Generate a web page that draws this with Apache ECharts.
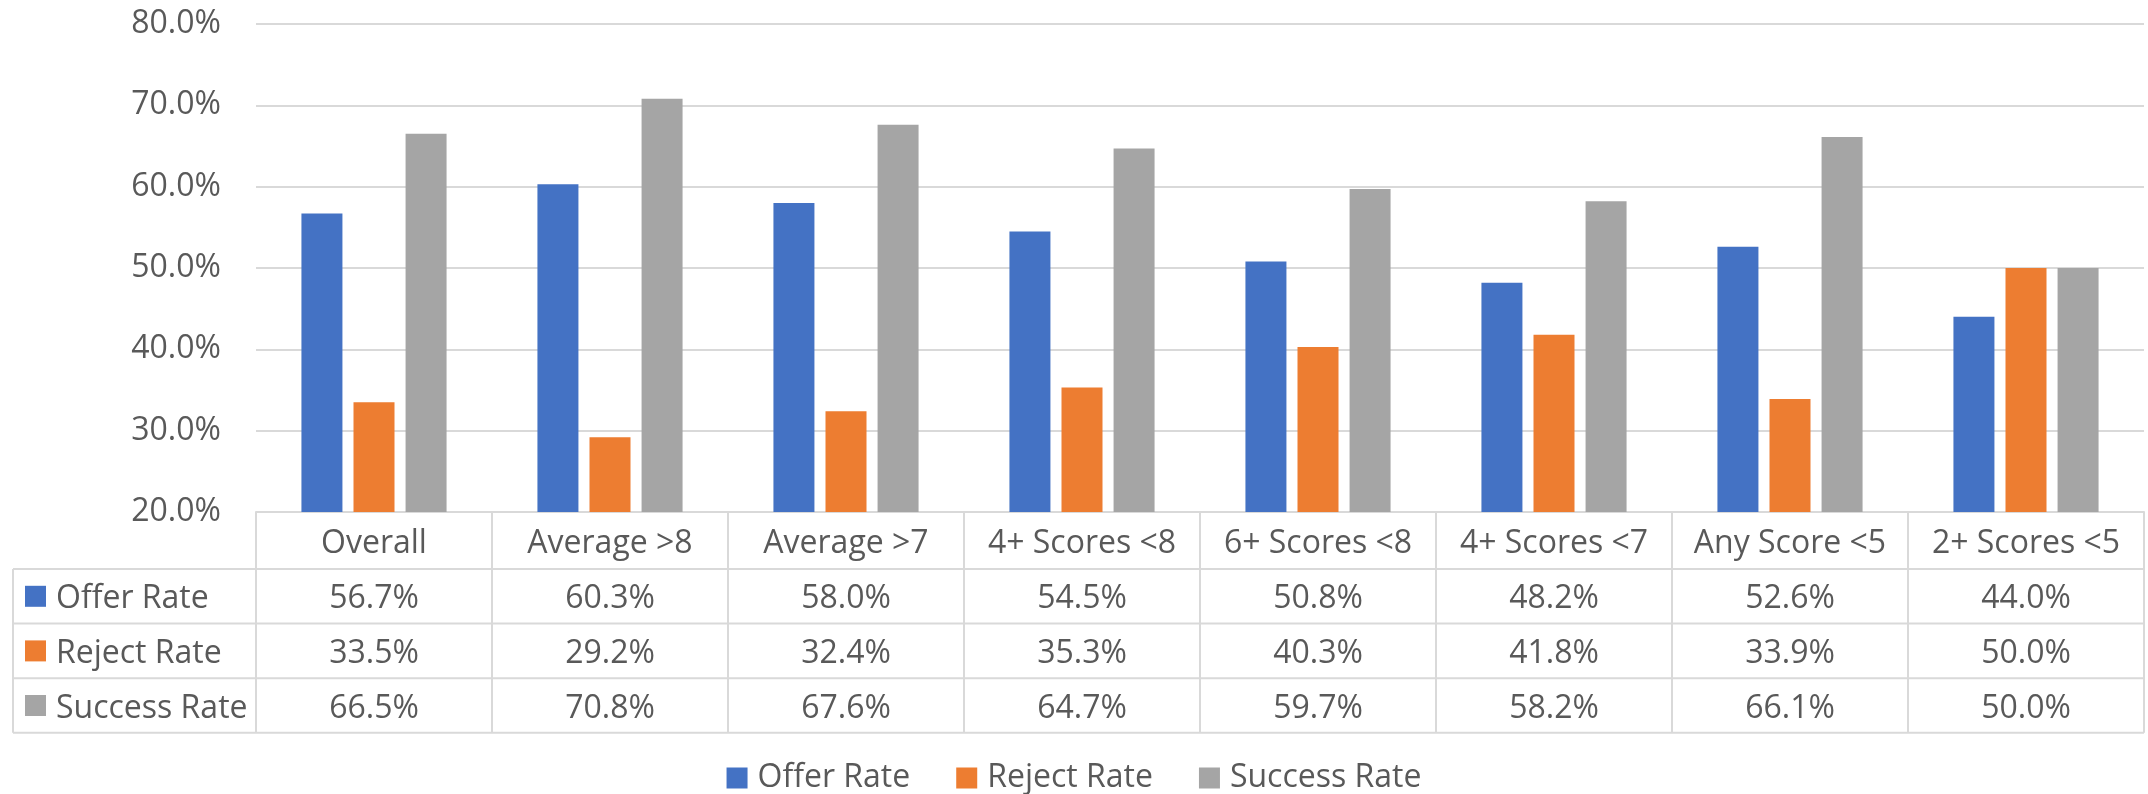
<!DOCTYPE html>
<html>
<head>
<meta charset="utf-8">
<script src="https://cdn.jsdelivr.net/npm/echarts@6/dist/echarts.min.js"></script>
<style>
  html, body { margin: 0; padding: 0; background: #fff; }
  #chart { width: 2148px; height: 794px; }
</style>
</head>
<body>
<div id="chart"></div>
<script>
const categories = ['Overall', 'Average >8', 'Average >7', '4+ Scores <8', '6+ Scores <8', '4+ Scores <7', 'Any Score <5', '2+ Scores <5'];
const seriesNames = ['Offer Rate', 'Reject Rate', 'Success Rate'];
const offerRate = [56.7, 60.3, 58.0, 54.5, 50.8, 48.2, 52.6, 44.0];
const rejectRate = [33.5, 29.2, 32.4, 35.3, 40.3, 41.8, 33.9, 50.0];
const successRate = [66.5, 70.8, 67.6, 64.7, 59.7, 58.2, 66.1, 50.0];
const yMin = 20, yMax = 80, yInterval = 10;

const seriesData = [offerRate, rejectRate, successRate];
const colors = ['#4472C4', '#ED7D31', '#A5A5A5'];
const textColor = '#595959';
const lineColor = '#D9D9D9';
const FONT = 'Open Sans';
const FS = 32;

// table layout
const gridLeft = 256, gridRight = 2144, gridTop = 24, tableTop = 512;
const headerH = 57, rowH = 54.6, tableLeft = 13, textShift = 3;
const tableBottom = tableTop + headerH + rowH * 3;

const fmt = v => v.toFixed(1) + '%';

const graphics = [];
for (let r = 0; r <= 3; r++) {
  const y = tableTop + headerH + rowH * r;
  graphics.push({
    type: 'line', silent: true,
    shape: { x1: tableLeft, y1: y, x2: gridRight, y2: y },
    style: { stroke: lineColor, lineWidth: 2 }
  });
}
graphics.push({
  type: 'line', silent: true,
  shape: { x1: tableLeft, y1: tableTop + headerH, x2: tableLeft, y2: tableBottom },
  style: { stroke: lineColor, lineWidth: 2 }
});
seriesNames.forEach((name, i) => {
  const cy = tableTop + headerH + rowH * i + rowH / 2;
  graphics.push({
    type: 'rect', silent: true,
    shape: { x: 25, y: cy - 10.5, width: 21, height: 21 },
    style: { fill: colors[i] }
  });
  graphics.push({
    type: 'text', silent: true,
    x: 56, y: cy + textShift,
    style: { text: name, fill: textColor, font: FS + 'px "' + FONT + '"', verticalAlign: 'middle', align: 'left' }
  });
});

const chart = echarts.init(document.getElementById('chart'), null, { renderer: 'canvas' });
chart.setOption({
  backgroundColor: '#fff',
  animation: false,
  textStyle: { fontFamily: FONT },
  grid: { left: gridLeft, right: 2148 - gridRight, top: gridTop, bottom: 794 - tableTop, containLabel: false },
  legend: {
    data: seriesNames,
    left: 'center',
    top: 757,
    icon: 'rect',
    itemWidth: 21,
    itemHeight: 21,
    itemGap: 46,
    textStyle: { fontSize: FS, color: textColor, fontFamily: FONT, padding: [0, 0, 0, 5] }
  },
  xAxis: {
    type: 'category',
    data: categories,
    boundaryGap: true,
    axisLine: { show: true, lineStyle: { color: lineColor, width: 2 } },
    axisTick: { show: true, interval: 0, length: tableBottom - tableTop, lineStyle: { color: lineColor, width: 2 } },
    axisLabel: {
      interval: 0,
      margin: textShift,
      hideOverlap: false,
      color: textColor,
      fontFamily: FONT,
      formatter: (value, idx) => {
        return '{c|' + value + '}\n' + seriesData.map(d => '{v|' + fmt(d[idx]) + '}').join('\n');
      },
      rich: {
        c: { fontSize: FS, lineHeight: headerH, color: textColor, fontFamily: FONT, align: 'center' },
        v: { fontSize: FS, lineHeight: rowH, color: textColor, fontFamily: FONT, align: 'center' }
      }
    }
  },
  yAxis: {
    type: 'value',
    min: yMin,
    max: yMax,
    interval: yInterval,
    axisLine: { show: false },
    axisTick: { show: false },
    splitLine: { show: true, lineStyle: { color: lineColor, width: 2 } },
    axisLabel: {
      margin: 35,
      fontSize: FS,
      color: textColor,
      fontFamily: FONT,
      formatter: v => v.toFixed(1) + '%'
    }
  },
  series: seriesNames.map((name, i) => ({
    name: name,
    type: 'bar',
    data: seriesData[i],
    barGap: '27%',
    barCategoryGap: '38.5%',
    itemStyle: { color: colors[i] }
  })),
  graphic: graphics
});
</script>
</body>
</html>
